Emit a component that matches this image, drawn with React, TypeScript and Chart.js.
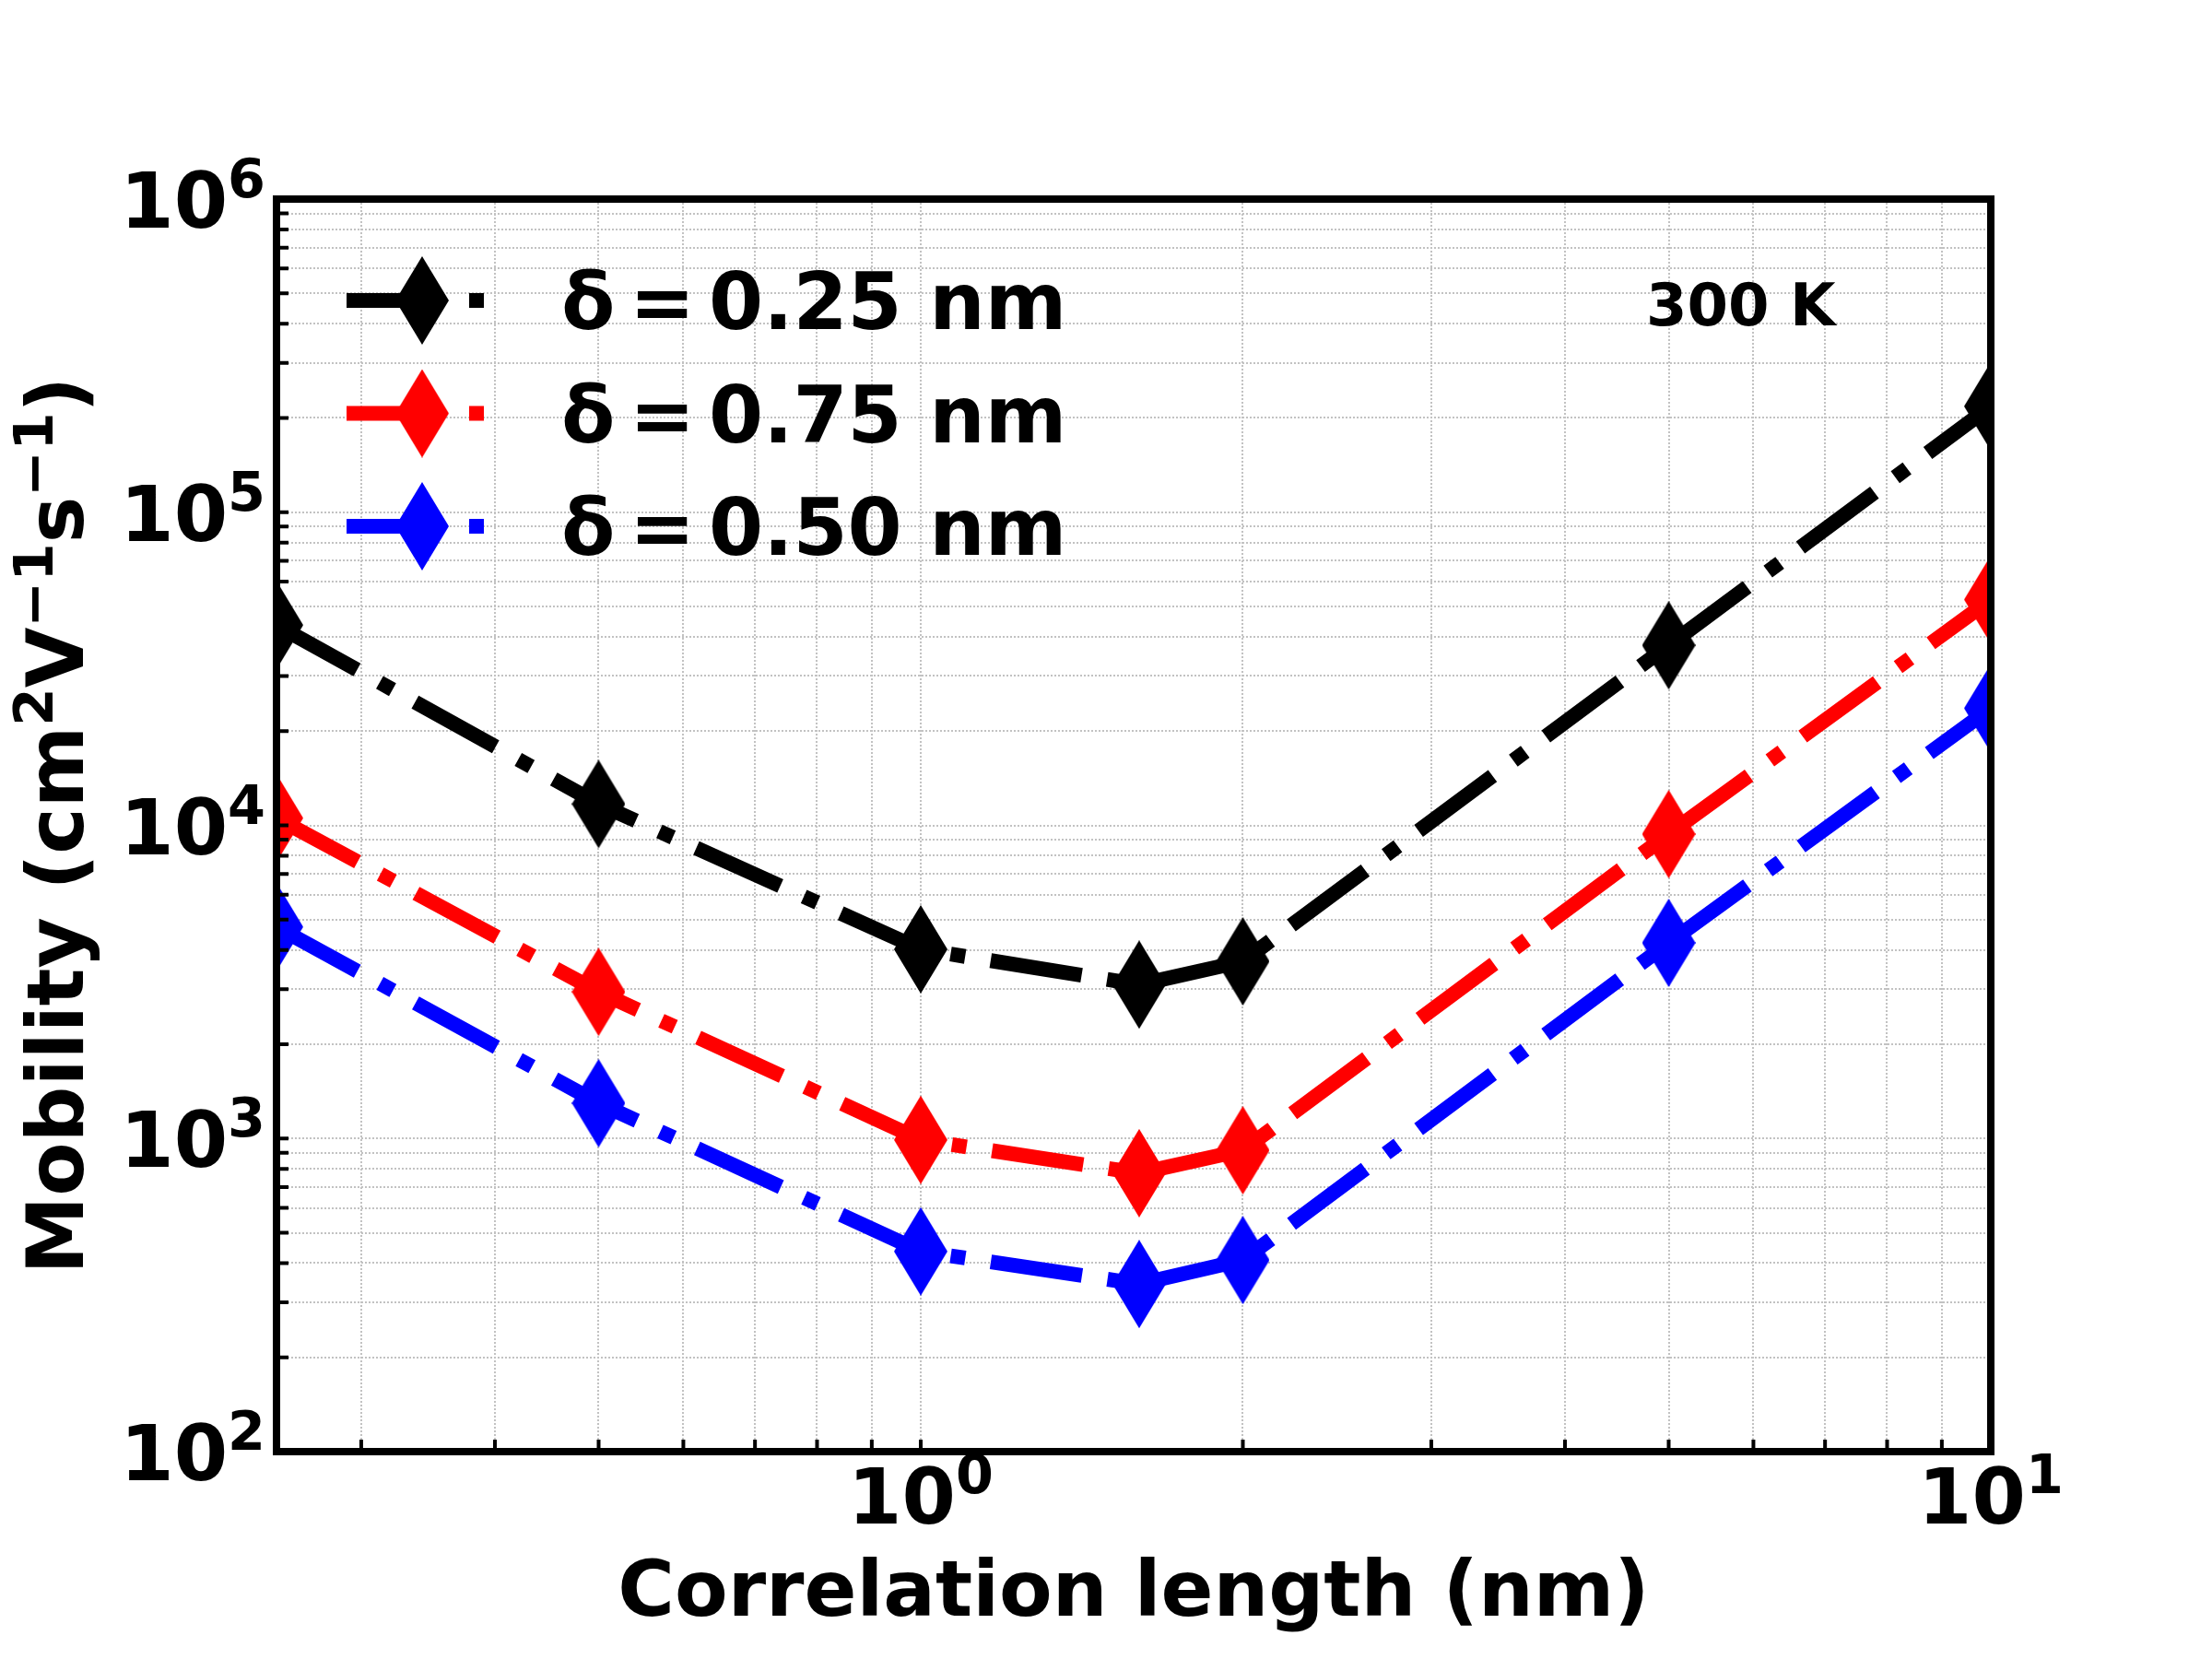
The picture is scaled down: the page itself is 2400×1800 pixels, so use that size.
import React, { useEffect, useRef } from 'react';
import { Chart, registerables } from 'chart.js';

Chart.register(...registerables);

// ---- data ----
const correlationLength = [0.25, 0.5, 1.0, 1.6, 2.0, 5.0, 10.0];
const mobilityDelta025 = [43600, 11700, 4020, 3100, 3680, 37600, 218000];
const mobilityDelta075 = [10550, 2940, 990, 775, 917, 9380, 52600];
const mobilityDelta050 = [4740, 1297, 436, 343, 409, 4215, 23660];
const seriesLabels = ['δ = 0.25 nm', 'δ = 0.75 nm', 'δ = 0.50 nm'];
const seriesColors = ['#000000', '#ff0000', '#0000ff'];

// ---- axes ----
const xMin = 0.25;
const xMax = 10;
const yMin = 100;
const yMax = 1000000;
const xTickValues = [0.3, 0.4, 0.5, 0.6, 0.7, 0.8, 0.9, 1, 2, 3, 4, 5, 6, 7, 8, 9, 10];
const xMajorLabels = [{ value: 1, base: '10', exp: '0' }, { value: 10, base: '10', exp: '1' }];
const yDecades = [100, 1000, 10000, 100000];
const yMultipliers = [1, 2, 3, 4, 5, 6, 7, 8, 9];
const yMajorLabels = [
  { value: 100, base: '10', exp: '2' },
  { value: 1000, base: '10', exp: '3' },
  { value: 10000, base: '10', exp: '4' },
  { value: 100000, base: '10', exp: '5' },
  { value: 1000000, base: '10', exp: '6' },
];
const xTitle = 'Correlation length (nm)';
const yTitleParts = [
  { t: 'Mobility (cm', sup: false },
  { t: '2', sup: true },
  { t: 'V', sup: false },
  { t: '−1', sup: true },
  { t: 's', sup: false },
  { t: '−1', sup: true },
  { t: ')', sup: false },
];
const annotationText = '300 K';

const FONT = '"DejaVu Sans", "Liberation Sans", sans-serif';

const yTickValues: number[] = [];
yDecades.forEach((d) => yMultipliers.forEach((m) => yTickValues.push(d * m)));
yTickValues.push(yMax);

type Part = { t: string; sup: boolean };

function makeDiamond(color: string): HTMLCanvasElement {
  const c = document.createElement('canvas');
  c.width = 58;
  c.height = 96;
  const g = c.getContext('2d')!;
  g.fillStyle = color;
  g.beginPath();
  g.moveTo(29, 0);
  g.lineTo(58, 48);
  g.lineTo(29, 96);
  g.lineTo(0, 48);
  g.closePath();
  g.fill();
  return c;
}

function drawMath(
  ctx: CanvasRenderingContext2D,
  parts: Part[],
  x: number,
  baseline: number,
  size: number,
  align: 'left' | 'center' | 'right'
) {
  const supSize = size * 0.7;
  const raise = size * 0.39;
  const widths = parts.map((p) => {
    ctx.font = `bold ${p.sup ? supSize : size}px ${FONT}`;
    return ctx.measureText(p.t).width;
  });
  const total = widths.reduce((a, b) => a + b, 0);
  let cx = align === 'left' ? x : align === 'center' ? x - total / 2 : x - total;
  ctx.textAlign = 'left';
  ctx.textBaseline = 'alphabetic';
  parts.forEach((p, i) => {
    ctx.font = `bold ${p.sup ? supSize : size}px ${FONT}`;
    ctx.fillText(p.t, cx, baseline - (p.sup ? raise : 0));
    cx += widths[i];
  });
}

function drawInk(ctx: CanvasRenderingContext2D, text: string, inkLeft: number, baseline: number) {
  const m = ctx.measureText(text);
  ctx.fillText(text, inkLeft + m.actualBoundingBoxLeft, baseline);
}

export default function App() {
  const ref = useRef<HTMLCanvasElement>(null);

  useEffect(() => {
    if (!ref.current) return;
    const diamonds = seriesColors.map(makeDiamond);
    const seriesValues = [mobilityDelta025, mobilityDelta075, mobilityDelta050];

    const overlay = {
      id: 'overlay',
      afterDraw(chart: any) {
        const ctx: CanvasRenderingContext2D = chart.ctx;
        const area = chart.chartArea;
        const xs = chart.scales.x;
        const ys = chart.scales.y;
        ctx.save();
        ctx.fillStyle = '#000';
        ctx.strokeStyle = '#000';

        // inward tick marks (bottom and left)
        ctx.lineWidth = 4;
        ctx.lineCap = 'butt';
        ctx.beginPath();
        xTickValues.forEach((v) => {
          const px = xs.getPixelForValue(v);
          ctx.moveTo(px, area.bottom);
          ctx.lineTo(px, area.bottom - 13);
        });
        yTickValues.forEach((v) => {
          const py = ys.getPixelForValue(v);
          ctx.moveTo(area.left, py);
          ctx.lineTo(area.left + 13, py);
        });
        ctx.stroke();

        // frame
        ctx.lineWidth = 8;
        ctx.lineJoin = 'miter';
        ctx.strokeRect(area.left, area.top, area.right - area.left, area.bottom - area.top);

        // tick labels
        xMajorLabels.forEach((l) => {
          const px = xs.getPixelForValue(l.value);
          drawMath(ctx, [{ t: l.base, sup: false }, { t: l.exp, sup: true }], px, area.bottom + 78, 84, 'center');
        });
        yMajorLabels.forEach((l) => {
          const py = ys.getPixelForValue(l.value);
          drawMath(ctx, [{ t: l.base, sup: false }, { t: l.exp, sup: true }], area.left - 12, py + 31, 84, 'right');
        });

        // axis titles
        drawMath(ctx, [{ t: xTitle, sup: false }], (area.left + area.right) / 2, area.bottom + 178, 84, 'center');
        ctx.save();
        ctx.translate(90, (area.top + area.bottom) / 2);
        ctx.rotate(-Math.PI / 2);
        drawMath(ctx, yTitleParts, 0, 0, 85, 'center');
        ctx.restore();

        // legend
        seriesLabels.forEach((label, i) => {
          const cy = area.top + 110 + i * 122.5;
          const x0 = area.left + 76;
          ctx.save();
          ctx.strokeStyle = seriesColors[i];
          ctx.lineWidth = 16;
          ctx.lineCap = 'butt';
          ctx.setLineDash([100, 33, 16, 28]);
          ctx.beginPath();
          ctx.moveTo(x0, cy);
          ctx.lineTo(x0 + 149, cy);
          ctx.stroke();
          ctx.restore();
          const d = diamonds[i];
          ctx.drawImage(d, area.left + 158 - d.width / 2, cy - d.height / 2);
          const [lhs, rhs] = label.split('=').map((s) => s.trim());
          ctx.font = `bold 85px ${FONT}`;
          ctx.textAlign = 'left';
          ctx.textBaseline = 'alphabetic';
          ctx.fillStyle = '#000';
          const base = cy + 31;
          drawInk(ctx, lhs, area.left + 312, base);
          drawInk(ctx, '=', area.left + 392, base);
          drawInk(ctx, rhs, area.left + 473, base);
        });

        // annotation
        ctx.font = `bold 64px ${FONT}`;
        ctx.fillStyle = '#000';
        drawInk(ctx, annotationText, area.left + 1490, area.top + 137);

        ctx.restore();
      },
    };

    const gridCommon = { color: '#c2c2c2', lineWidth: 2, drawTicks: false };
    const chart = new Chart(ref.current, {
      type: 'line',
      data: {
        datasets: seriesLabels.map((label, i) => ({
          label,
          data: correlationLength.map((x, j) => ({ x, y: seriesValues[i][j] })),
          borderColor: seriesColors[i],
          backgroundColor: seriesColors[i],
          borderWidth: 16,
          borderDash: [100, 28, 16, 28],
          borderCapStyle: 'butt',
          borderJoinStyle: 'round',
          pointStyle: diamonds[i],
          pointRadius: 30,
          pointHoverRadius: 30,
          pointBorderWidth: 0,
          tension: 0,
          fill: false,
          clip: 0,
          order: i,
        })) as any,
      },
      options: {
        animation: false,
        responsive: false,
        maintainAspectRatio: false,
        devicePixelRatio: 1,
        events: [],
        layout: { padding: { left: 300, right: 240, top: 216, bottom: 225 } },
        plugins: { legend: { display: false }, tooltip: { enabled: false }, title: { display: false } },
        scales: {
          x: {
            type: 'logarithmic',
            min: xMin,
            max: xMax,
            ticks: { display: false },
            grid: gridCommon,
            border: { display: false, dash: [2, 2] },
            afterBuildTicks: (s: any) => {
              s.ticks = xTickValues.map((v) => ({ value: v }));
            },
          },
          y: {
            type: 'logarithmic',
            min: yMin,
            max: yMax,
            ticks: { display: false },
            grid: gridCommon,
            border: { display: false, dash: [2, 2] },
            afterBuildTicks: (s: any) => {
              s.ticks = yTickValues.map((v) => ({ value: v }));
            },
          },
        },
      } as any,
      plugins: [overlay],
    });
    return () => chart.destroy();
  }, []);

  return (
    <div style={{ position: 'fixed', left: 0, top: 0, width: 2400, height: 1800, background: '#fff' }}>
      <canvas ref={ref} width={2400} height={1800} style={{ width: 2400, height: 1800, display: 'block' }} />
    </div>
  );
}
